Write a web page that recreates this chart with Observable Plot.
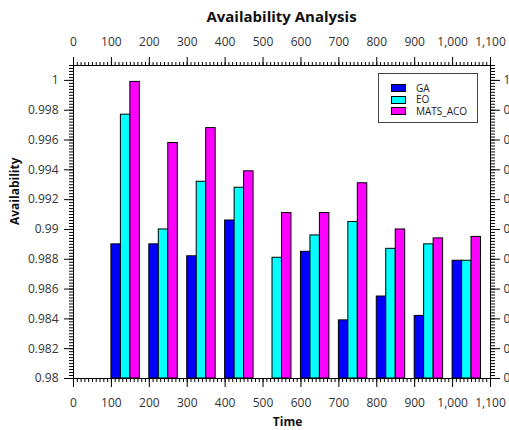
<!DOCTYPE html>
<html>
<head>
<meta charset="utf-8">
<script src="https://cdn.jsdelivr.net/npm/d3@7"></script>
<script src="https://cdn.jsdelivr.net/npm/@observablehq/plot@0.6"></script>
<style>
  html, body { margin: 0; padding: 0; background: #fff; }
  #wrap { position: relative; width: 509px; height: 430px; overflow: hidden; font-family: "Open Sans", sans-serif; }
  #title { height: 30px; line-height: 32px; text-align: left; font-weight: bold; font-size: 15px; color: #111; position: relative; }
  #title span { position: absolute; left: 281.5px; transform: translateX(-50%); white-space: nowrap; }
  #legend { position: absolute; left: 378px; top: 72.5px; width: 100px; height: 50px; border: 1px solid #444; background: #fff; box-sizing: border-box; }
  .row { position: absolute; left: 12px; height: 11px; font-size: 10px; line-height: 11px; color: #222; white-space: nowrap; }
  .sw { position: absolute; left: 0; top: 1.5px; width: 15px; height: 8px; box-sizing: border-box; border: 1px solid #000; }
  .lb { position: absolute; left: 25px; top: 0; }
</style>
</head>
<body>
<div id="wrap">
  <div id="title"><span>Availability Analysis</span></div>
  <div id="chart"></div>
  <div id="legend"></div>
</div>
<script>
// ---- data ----
const groups = [100, 200, 300, 400, 500, 600, 700, 800, 900, 1000];
const seriesNames = ["GA", "EO", "MATS_ACO"];
const seriesColors = ["#0000ff", "#00ffff", "#ff00ff"];
const GA       = [0.9890, 0.9890, 0.9882, 0.9906, 0.9800, 0.9885, 0.9839, 0.9855, 0.9842, 0.9879];
const EO       = [0.9977, 0.9900, 0.9932, 0.9928, 0.9881, 0.9896, 0.9905, 0.9887, 0.9890, 0.9879];
const MATS_ACO = [0.9999, 0.9958, 0.9968, 0.9939, 0.9911, 0.9911, 0.9931, 0.9900, 0.9894, 0.9895];
const xMajorTicks = d3.range(0, 1101, 100);
const xMinorTicks = d3.range(0, 1101, 10);
const yMajorTicks = [0.98, 0.982, 0.984, 0.986, 0.988, 0.99, 0.992, 0.994, 0.996, 0.998, 1.0];
const yMinorTicks = d3.range(0, 106).map(i => +(0.98 + i * 0.0002).toFixed(4));
const xDomain = [0, 1100];
const yDomain = [0.98, 1.001];
const barUnit = 25;

// ---- table ----
const seriesValues = [GA, EO, MATS_ACO];
const rows = [];
groups.forEach((g, gi) => {
  seriesNames.forEach((s, si) => {
    rows.push({group: g, series: s, value: seriesValues[si][gi], x1: g + si * barUnit, x2: g + (si + 1) * barUnit});
  });
});

const yFmt = d => String(+d.toFixed(3));
const xFmt = d3.format(",");
const font = "Open Sans";

const chart = Plot.plot({
  width: 509,
  height: 400,
  marginLeft: 73,
  marginRight: 19,
  marginTop: 35,
  marginBottom: 52,
  style: {fontFamily: font, fontSize: "12px", background: "white", overflow: "visible"},
  x: {domain: xDomain},
  y: {domain: yDomain},
  color: {domain: seriesNames, range: seriesColors},
  marks: [
    Plot.rect(rows, {x1: "x1", x2: "x2", y1: () => yDomain[0], y2: "value", fill: "series", stroke: "black", strokeWidth: 1}),
    Plot.frame({stroke: "black", strokeWidth: 1}),
    // x axes
    Plot.axisX(xMajorTicks, {anchor: "bottom", tickSize: 9, tickPadding: 11, tickFormat: xFmt, fontSize: 12, stroke: "black", fill: "#333", label: null}),
    Plot.axisX(xMinorTicks, {anchor: "bottom", tickSize: 4, fill: "none", stroke: "black", label: null}),
    Plot.axisX(xMajorTicks, {anchor: "top", tickSize: 9, tickPadding: 11, tickFormat: xFmt, fontSize: 12, stroke: "black", fill: "#333", label: null}),
    Plot.axisX(xMinorTicks, {anchor: "top", tickSize: 4, fill: "none", stroke: "black", label: null}),
    // y axes
    Plot.axisY(yMajorTicks, {anchor: "left", tickSize: 9, tickPadding: 6, tickFormat: yFmt, fontSize: 12, stroke: "black", fill: "#333", label: null}),
    Plot.axisY(yMinorTicks, {anchor: "left", tickSize: 4, fill: "none", stroke: "black", label: null}),
    Plot.axisY(yMajorTicks, {anchor: "right", tickSize: 9, tickPadding: 4, tickFormat: yFmt, fontSize: 12, stroke: "black", fill: "#333", label: null}),
    Plot.axisY(yMinorTicks, {anchor: "right", tickSize: 4, fill: "none", stroke: "black", label: null}),
    // axis titles
    Plot.text(["Time"], {frameAnchor: "bottom", dx: 5.5, dy: 47, text: d => d, fontWeight: "bold", fontSize: 12, fill: "#111", lineAnchor: "bottom"}),
    Plot.text(["Availability"], {frameAnchor: "left", dx: -58, dy: 3, text: d => d, rotate: -90, fontWeight: "bold", fontSize: 12, fill: "#111"})
  ]
});
document.getElementById("chart").appendChild(chart);

// ---- legend ----
const legend = document.getElementById("legend");
seriesNames.forEach((s, i) => {
  const row = document.createElement("div");
  row.className = "row";
  row.style.top = (9 + i * 11.7) + "px";
  const sw = document.createElement("div");
  sw.className = "sw";
  sw.style.background = seriesColors[i];
  const lb = document.createElement("div");
  lb.className = "lb";
  lb.textContent = s;
  row.appendChild(sw);
  row.appendChild(lb);
  legend.appendChild(row);
});
</script>
</body>
</html>
